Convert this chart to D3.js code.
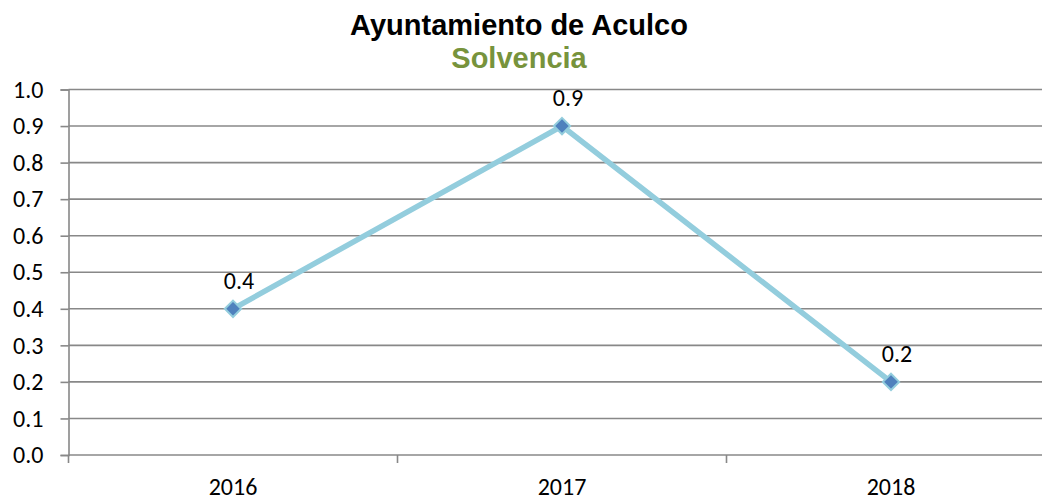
<!DOCTYPE html>
<html>
<head>
<meta charset="utf-8">
<script src="https://cdn.jsdelivr.net/npm/d3@7"></script>
<style>
  body { margin: 0; background: #fff; }
  svg { display: block; }
</style>
</head>
<body>
<div id="chart"></div>
<script>
var w = 1042, h = 501;

// chart data
var years = ["2016", "2017", "2018"];
var solvencia = [0.4, 0.9, 0.2];
var yTicks = [0, 0.1, 0.2, 0.3, 0.4, 0.5, 0.6, 0.7, 0.8, 0.9, 1.0];

var svg = d3.select("#chart").append("svg")
    .attr("width", w).attr("height", h);

var plotLeft = 68.5, plotTop = 89.5, plotBottom = 455;
var labelFont = "Carlito, Calibri, Lato, sans-serif";

// band scale runs past the right edge like the original
var x = d3.scaleBand().domain(years).range([plotLeft, plotLeft + 3 * 329]);
var y = d3.scaleLinear().domain([0, 1]).range([plotBottom, plotTop]);

// titles
svg.append("text")
    .attr("x", 519).attr("y", 35)
    .attr("text-anchor", "middle")
    .style("font-family", "Liberation Sans, Arial, sans-serif")
    .style("font-weight", "bold")
    .style("font-size", "29px")
    .text("Ayuntamiento de Aculco");

svg.append("text")
    .attr("x", 519).attr("y", 68)
    .attr("text-anchor", "middle")
    .style("font-family", "Liberation Sans, Arial, sans-serif")
    .style("font-weight", "bold")
    .style("font-size", "29px")
    .style("fill", "#77933C")
    .text("Solvencia");

// gridlines
svg.append("g").selectAll("line").data(yTicks).enter().append("line")
    .attr("x1", plotLeft).attr("x2", w)
    .attr("y1", d => y(d)).attr("y2", d => y(d))
    .attr("stroke", "#888").attr("stroke-width", 1.6);

// y axis
var yAxis = svg.append("g")
    .attr("transform", "translate(" + plotLeft + ",0)")
    .call(d3.axisLeft(y).tickValues(yTicks).tickFormat(d3.format(".1f")).tickSize(8).tickPadding(17));
yAxis.select(".domain").attr("stroke", "#888").attr("stroke-width", 1.6);
yAxis.selectAll(".tick line").attr("stroke", "#888").attr("stroke-width", 1.6);
yAxis.selectAll("text")
    .style("font-family", labelFont)
    .style("font-size", "24px").style("fill", "#000");

// x axis: ticks at the category boundaries
var bounds = [0, 1, 2, 3].map(i => plotLeft + i * x.bandwidth());
svg.append("g").selectAll("line").data(bounds).enter().append("line")
    .attr("x1", d => d).attr("x2", d => d)
    .attr("y1", plotBottom).attr("y2", plotBottom + 8)
    .attr("stroke", "#888").attr("stroke-width", 1.6);

svg.append("g").selectAll("text").data(years).enter().append("text")
    .attr("x", d => x(d) + x.bandwidth() / 2)
    .attr("y", 495)
    .attr("text-anchor", "middle")
    .style("font-family", labelFont)
    .style("font-size", "24px")
    .text(d => d);

// line
var pts = years.map((d, i) => ({ year: d, v: solvencia[i] }));
var line = d3.line()
    .x(d => x(d.year) + x.bandwidth() / 2)
    .y(d => y(d.v));

svg.append("path").datum(pts)
    .attr("d", line)
    .attr("fill", "none")
    .attr("stroke", "#93CDDD")
    .attr("stroke-width", 5.5);

// diamond markers
svg.append("g").selectAll("path").data(pts).enter().append("path")
    .attr("d", d3.symbol().type(d3.symbolDiamond2).size(170))
    .attr("transform", d => "translate(" + (x(d.year) + x.bandwidth() / 2) + "," + y(d.v) + ")")
    .attr("fill", "#4F81BD")
    .attr("stroke", "#93CDDD")
    .attr("stroke-width", 2);

// data labels
svg.append("g").selectAll("text").data(pts).enter().append("text")
    .attr("x", d => x(d.year) + x.bandwidth() / 2 + 6)
    .attr("y", d => y(d.v) - 20)
    .attr("text-anchor", "middle")
    .style("font-family", labelFont)
    .style("font-size", "24px")
    .text(d => d.v.toFixed(1));
</script>
</body>
</html>
